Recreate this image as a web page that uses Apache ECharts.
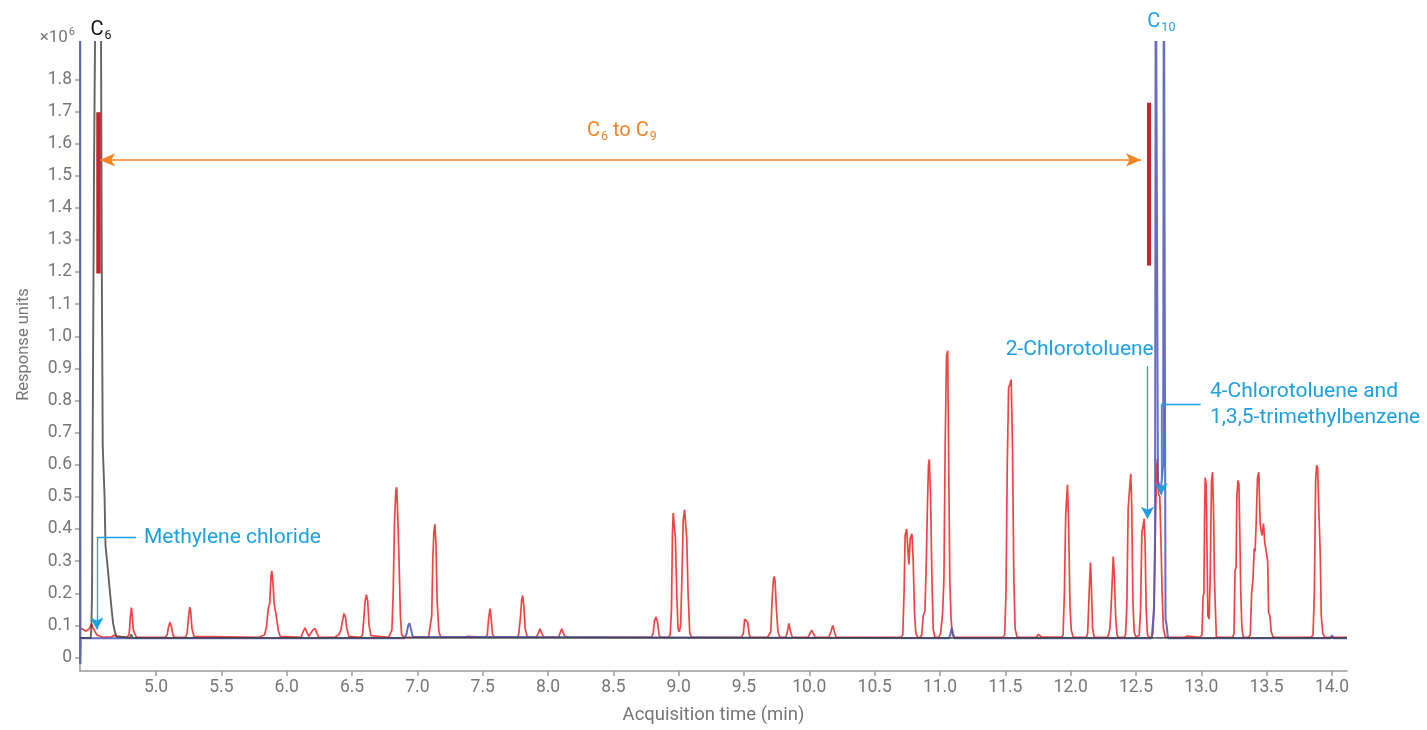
<!DOCTYPE html>
<html>
<head>
<meta charset="utf-8">
<script src="https://cdn.jsdelivr.net/npm/echarts@6/dist/echarts.min.js"></script>
<style>
html,body{margin:0;padding:0;background:#fff;}
#chart{width:1427px;height:730px;}
</style>
</head>
<body>
<div id="chart"></div>
<script>
// ---------- DATA ----------
const xTickLabels = ['5.0','5.5','6.0','6.5','7.0','7.5','8.0','8.5','9.0','9.5','10.0','10.5','11.0','11.5','12.0','12.5','13.0','13.5','14.0'];
const yTickLabels = ['0','0.1','0.2','0.3','0.4','0.5','0.6','0.7','0.8','0.9','1.0','1.1','1.2','1.3','1.4','1.5','1.6','1.7','1.8'];

// red trace [time (min), response (x10^6)]
const redTrace = [
[4.419,0.092],[4.44,0.088],[4.465,0.082],[4.49,0.090],[4.506,0.104],[4.515,0.098],[4.53,0.082],[4.55,0.070],[4.57,0.066],[4.60,0.063],[4.66,0.064],[4.68,0.070],[4.70,0.064],
[4.78,0.063],[4.795,0.075],[4.803,0.125],[4.811,0.155],[4.818,0.13],[4.826,0.085],[4.84,0.072],[4.85,0.063],
[5.07,0.063],[5.085,0.07],[5.095,0.095],[5.107,0.11],[5.118,0.095],[5.13,0.07],[5.14,0.063],
[5.225,0.063],[5.238,0.075],[5.247,0.12],[5.258,0.157],[5.266,0.14],[5.275,0.09],[5.29,0.066],[5.30,0.063],
[5.79,0.063],[5.81,0.067],[5.83,0.07],[5.845,0.095],[5.858,0.15],[5.87,0.17],[5.88,0.255],[5.886,0.27],[5.895,0.23],[5.905,0.165],[5.92,0.13],[5.935,0.085],[5.95,0.066],[5.96,0.063],
[6.11,0.063],[6.125,0.08],[6.14,0.092],[6.155,0.078],[6.17,0.066],[6.185,0.07],[6.2,0.086],[6.217,0.09],[6.232,0.075],[6.245,0.063],
[6.37,0.063],[6.385,0.068],[6.4,0.072],[6.415,0.085],[6.425,0.11],[6.438,0.137],[6.45,0.125],[6.46,0.09],[6.475,0.066],[6.49,0.063],
[6.565,0.063],[6.58,0.07],[6.59,0.12],[6.6,0.175],[6.61,0.196],[6.62,0.175],[6.63,0.1],[6.645,0.068],[6.66,0.063],
[6.78,0.063],[6.79,0.068],[6.805,0.085],[6.815,0.2],[6.825,0.42],[6.835,0.52],[6.842,0.53],[6.85,0.44],[6.86,0.3],[6.87,0.13],[6.88,0.07],[6.9,0.063],
[7.085,0.063],[7.1,0.068],[7.11,0.13],[7.118,0.3],[7.126,0.39],[7.134,0.415],[7.142,0.36],[7.152,0.17],[7.165,0.08],[7.18,0.063],
[7.36,0.063],[7.37,0.067],[7.385,0.066],[7.395,0.063],
[7.52,0.063],[7.535,0.07],[7.545,0.12],[7.556,0.152],[7.565,0.12],[7.575,0.072],[7.59,0.063],
[7.76,0.063],[7.775,0.07],[7.79,0.13],[7.798,0.18],[7.806,0.193],[7.815,0.16],[7.825,0.09],[7.84,0.066],[7.86,0.063],
[7.91,0.063],[7.925,0.075],[7.939,0.089],[7.952,0.076],[7.965,0.063],
[8.08,0.063],[8.093,0.077],[8.105,0.089],[8.118,0.075],[8.13,0.066],[8.16,0.063],
[8.79,0.063],[8.805,0.075],[8.815,0.115],[8.826,0.126],[8.838,0.11],[8.85,0.07],[8.86,0.063],
[8.92,0.063],[8.935,0.07],[8.945,0.15],[8.952,0.38],[8.958,0.45],[8.967,0.453],[8.975,0.37],[8.985,0.2],[8.995,0.09],[9.005,0.08],[9.015,0.1],[9.025,0.25],[9.035,0.43],[9.045,0.46],[9.054,0.463],[9.062,0.37],[9.072,0.2],[9.085,0.075],[9.1,0.063],
[9.48,0.063],[9.495,0.075],[9.505,0.12],[9.515,0.125],[9.528,0.11],[9.54,0.07],[9.55,0.063],
[9.68,0.063],[9.695,0.066],[9.705,0.08],[9.715,0.18],[9.725,0.24],[9.73,0.252],[9.738,0.237],[9.748,0.15],[9.76,0.08],[9.775,0.063],
[9.82,0.063],[9.832,0.08],[9.844,0.106],[9.856,0.08],[9.87,0.063],
[9.99,0.063],[10.005,0.075],[10.018,0.085],[10.03,0.075],[10.045,0.063],
[10.15,0.063],[10.165,0.08],[10.179,0.1],[10.192,0.08],[10.205,0.063],
[10.44,0.063],[10.45,0.066],[10.46,0.063],
[10.7,0.063],[10.715,0.07],[10.725,0.2],[10.733,0.38],[10.745,0.40],[10.755,0.33],[10.762,0.29],[10.772,0.37],[10.785,0.385],[10.795,0.3],[10.805,0.14],[10.815,0.075],[10.83,0.063],
[10.85,0.063],[10.86,0.07],[10.872,0.13],[10.885,0.145],[10.895,0.3],[10.905,0.49],[10.912,0.6],[10.918,0.617],[10.928,0.5],[10.938,0.25],[10.948,0.09],[10.96,0.063],
[10.99,0.063],[11.005,0.075],[11.02,0.14],[11.03,0.24],[11.04,0.675],[11.05,0.94],[11.059,0.955],[11.065,0.68],[11.075,0.24],[11.085,0.12],[11.095,0.07],[11.11,0.063],
[11.48,0.063],[11.495,0.07],[11.505,0.2],[11.515,0.6],[11.525,0.84],[11.535,0.85],[11.545,0.865],[11.555,0.65],[11.565,0.25],[11.575,0.09],[11.59,0.063],
[11.74,0.063],[11.752,0.072],[11.765,0.073],[11.778,0.064],
[11.93,0.063],[11.942,0.07],[11.952,0.2],[11.962,0.444],[11.97,0.5],[11.976,0.538],[11.985,0.4],[11.995,0.16],[12.005,0.085],[12.02,0.063],
[12.12,0.063],[12.13,0.075],[12.138,0.16],[12.145,0.24],[12.152,0.296],[12.16,0.2],[12.168,0.09],[12.18,0.063],
[12.28,0.063],[12.29,0.07],[12.3,0.09],[12.31,0.16],[12.318,0.237],[12.326,0.314],[12.335,0.25],[12.345,0.12],[12.355,0.07],[12.365,0.063],
[12.41,0.063],[12.42,0.07],[12.43,0.16],[12.44,0.463],[12.45,0.52],[12.46,0.572],[12.468,0.463],[12.476,0.18],[12.486,0.08],[12.5,0.063],
[12.515,0.063],[12.525,0.07],[12.535,0.15],[12.545,0.39],[12.555,0.41],[12.562,0.432],[12.57,0.35],[12.578,0.15],[12.588,0.07],[12.6,0.063],
[12.62,0.063],[12.63,0.075],[12.64,0.2],[12.65,0.45],[12.66,0.6],[12.664,0.618],[12.672,0.51],[12.682,0.5],[12.692,0.35],[12.7,0.2],[12.71,0.09],[12.725,0.063],
[12.87,0.063],[12.88,0.068],[12.895,0.067],[12.91,0.063],
[12.99,0.063],[13.005,0.07],[13.013,0.19],[13.02,0.2],[13.025,0.45],[13.03,0.56],[13.037,0.54],[13.045,0.3],[13.05,0.13],[13.06,0.12],[13.068,0.25],[13.078,0.55],[13.086,0.577],[13.094,0.45],[13.1,0.25],[13.108,0.15],[13.115,0.063],
[13.24,0.063],[13.25,0.075],[13.258,0.27],[13.266,0.28],[13.272,0.5],[13.28,0.551],[13.288,0.54],[13.295,0.38],[13.302,0.2],[13.31,0.1],[13.32,0.063],
[13.36,0.063],[13.375,0.07],[13.385,0.2],[13.395,0.24],[13.405,0.34],[13.412,0.33],[13.42,0.42],[13.43,0.56],[13.44,0.577],[13.45,0.42],[13.455,0.40],[13.465,0.38],[13.476,0.417],[13.485,0.36],[13.5,0.366],[13.508,0.3],[13.515,0.14],[13.525,0.13],[13.535,0.08],[13.55,0.063],
[13.84,0.063],[13.855,0.07],[13.865,0.2],[13.875,0.55],[13.883,0.598],[13.89,0.59],[13.9,0.453],[13.91,0.324],[13.918,0.13],[13.93,0.075],[13.945,0.063],
[14.115,0.063]
];

// blue trace
const blueTrace = [
[4.4188,-0.02],[4.4192,2.4],[4.4205,2.4],[4.4212,-0.02],[4.424,0.06],[4.8,0.06],
[6.9,0.06],[6.915,0.07],[6.93,0.1],[6.94,0.107],[6.95,0.09],[6.965,0.065],[6.98,0.06],
[11.07,0.06],[11.08,0.075],[11.09,0.092],[11.1,0.075],[11.11,0.06],
[12.62,0.06],[12.638,0.15],[12.646,0.38],[12.651,2.4],[12.662,2.4],[12.668,0.55],[12.69,0.52],[12.708,0.6],[12.713,2.4],[12.722,2.4],[12.726,0.12],[12.735,0.1],[12.745,0.06],
[13.99,0.06],[14.0,0.07],[14.01,0.06],[14.115,0.06]
];

// black trace
const blackTrace = [
[4.419,0.061],[4.50,0.061],[4.505,0.09],[4.51,0.2],[4.515,0.68],[4.525,1.5],[4.533,1.92],[4.54,2.4],[4.57,2.4],[4.579,1.92],[4.585,1.2],[4.592,0.66],[4.598,0.59],[4.606,0.5],[4.613,0.35],[4.63,0.28],[4.648,0.2],[4.66,0.15],[4.671,0.107],[4.685,0.08],[4.699,0.066],[4.71,0.061],
[4.80,0.061],[4.81,0.072],[4.82,0.061],[14.115,0.061]
];

// annotation anchors [time, response]
const c6Bar = [[4.555,1.195],[4.555,1.697]];
const c9Bar = [[12.594,1.22],[12.594,1.727]];
const rangeArrow = [[4.571,1.549],[12.538,1.549]];
const methyleneLeader = [[4.847,0.374],[4.547,0.374],[4.547,0.087]];
const chlorotolueneLeader = [[12.588,0.907],[12.588,0.432]];
const chloroTmbLeader = [[12.995,0.787],[12.692,0.787],[12.692,0.505]];

const xMin = 4.418, xMax = 14.115, yMin = -0.042, yMax = 1.916;

// ---------- CHART ----------
const chart = echarts.init(document.getElementById('chart'), null, {renderer:'canvas'});
const font = 'Roboto, "Noto Sans", sans-serif';
const gray = '#767676';
const annBlue = '#1ba1e2';
const orange = '#f58220';
const darkRed = '#c1272d';

function seg(a, b, extra) {
  return [Object.assign({coord: a, symbol: 'none'}, extra && extra[0] || {}),
          Object.assign({coord: b, symbol: 'none'}, extra && extra[1] || {})];
}
const xTickVals = xTickLabels.map(Number);
const yTickVals = yTickLabels.map(Number);

const option = {
  animation: false,
  backgroundColor: '#fff',
  textStyle: {fontFamily: font},
  grid: {left: 80, right: 80, top: 42, bottom: 55, containLabel: false},
  xAxis: {
    type: 'value', min: xMin, max: xMax,
    name: 'Acquisition time (min)', nameLocation: 'middle', nameGap: 35,
    nameTextStyle: {color: gray, fontSize: 18.5, fontFamily: font},
    axisLine: {show: true, onZero: false, lineStyle: {color: '#9a9a9a', width: 1.5}},
    axisTick: {show: true, length: 5, lineStyle: {color: '#9a9a9a', width: 1.5}, customValues: xTickVals},
    axisLabel: {color: gray, fontSize: 17.5, margin: 8, fontFamily: font,
      customValues: xTickVals,
      formatter: v => { const i = xTickVals.findIndex(t => Math.abs(t - v) < 1e-6); return i >= 0 ? xTickLabels[i] : ''; }},
    splitLine: {show: false}
  },
  yAxis: {
    type: 'value', min: yMin, max: yMax,
    name: 'Response units', nameLocation: 'middle', nameGap: 48,
    nameTextStyle: {color: gray, fontSize: 16.5, fontFamily: font, padding: [0, 0, 0, 24]},
    axisLine: {show: true, onZero: false, lineStyle: {color: '#9a9a9a', width: 1.5}},
    axisTick: {show: true, length: 5, lineStyle: {color: '#9a9a9a', width: 1.5}, customValues: yTickVals},
    axisLabel: {color: gray, fontSize: 17.5, margin: 8, fontFamily: font,
      customValues: yTickVals,
      formatter: v => { const i = yTickVals.findIndex(t => Math.abs(t - v) < 1e-6); return i >= 0 ? yTickLabels[i] : ''; }},
    splitLine: {show: false}
  },
  series: [
    {name: 'red', type: 'line', data: redTrace, showSymbol: false, clip: true, z: 2,
     lineStyle: {color: 'rgba(240,40,40,0.88)', width: 1.7}},
    {name: 'blue', type: 'line', data: blueTrace, showSymbol: false, clip: true, z: 3,
     lineStyle: {color: 'rgba(80,90,185,0.88)', width: 2}},
    {name: 'black', type: 'line', data: blackTrace, showSymbol: false, clip: true, z: 4,
     lineStyle: {color: 'rgba(60,60,60,0.8)', width: 1.9}},
    {name: 'annotations', type: 'line', data: [], z: 5, showSymbol: false,
     markLine: {
       silent: true, animation: false, label: {show: false},
       data: [
         seg(c6Bar[0], c6Bar[1], [{lineStyle: {color: darkRed, width: 4.5, type: 'solid'}}]),
         seg(c9Bar[0], c9Bar[1], [{lineStyle: {color: darkRed, width: 4, type: 'solid'}}]),
         [{coord: rangeArrow[0], symbol: 'arrow', symbolSize: [10, 15], lineStyle: {color: orange, width: 1.5, type: 'solid'}},
          {coord: rangeArrow[1], symbol: 'arrow', symbolSize: [10, 15]}],
         seg(methyleneLeader[0], methyleneLeader[1], [{lineStyle: {color: annBlue, width: 1.3, type: 'solid'}}]),
         [{coord: methyleneLeader[1], symbol: 'none', lineStyle: {color: annBlue, width: 1.3, type: 'solid'}},
          {coord: methyleneLeader[2], symbol: 'arrow', symbolSize: [10, 12]}],
         [{coord: chlorotolueneLeader[0], symbol: 'none', lineStyle: {color: annBlue, width: 1.3, type: 'solid'}},
          {coord: chlorotolueneLeader[1], symbol: 'arrow', symbolSize: [10, 12]}],
         seg(chloroTmbLeader[0], chloroTmbLeader[1], [{lineStyle: {color: annBlue, width: 1.3, type: 'solid'}}]),
         [{coord: chloroTmbLeader[1], symbol: 'none', lineStyle: {color: annBlue, width: 1.3, type: 'solid'}},
          {coord: chloroTmbLeader[2], symbol: 'arrow', symbolSize: [10, 12]}]
       ]
     }}
  ]
};
chart.setOption(option);

// ---------- TEXT LABELS (positioned through the chart's scales) ----------
const px = (t, v) => chart.convertToPixel({gridIndex: 0}, [t, v]);
const subRich = (color, size, subSize, subPad) => ({
  c: {fontSize: size, fill: color, fontFamily: font, verticalAlign: 'top', lineHeight: size + 2},
  s: {fontSize: subSize, fill: color, fontFamily: font, verticalAlign: 'top', lineHeight: subSize, padding: [subPad, 0, 0, 1]}
});
const graphics = [];
function addText(t, v, text, opts) {
  const p = px(t, v);
  graphics.push({type: 'text', x: p[0] + (opts.dx || 0), y: p[1] + (opts.dy || 0), silent: true, z: 100,
    style: Object.assign({text: text, fontFamily: font}, opts.style)});
}
// x10^6 (above axis top)
(function(){
  const p = px(xMin, yMax);
  graphics.push({type: 'text', x: p[0] - 5, y: p[1] - 13, silent: true, z: 100,
    style: {text: '{a|×10}{b|6}', align: 'right', verticalAlign: 'top',
      rich: {a: {fontSize: 17, fill: gray, fontFamily: font, verticalAlign: 'top', lineHeight: 19},
             b: {fontSize: 11, fill: gray, fontFamily: font, verticalAlign: 'top', lineHeight: 11, padding: [-2,0,0,1]}}}});
})();
// C6 (black, above the C6 peak)
(function(){
  const p = px(4.49, yMax);
  graphics.push({type: 'text', x: p[0] + 1, y: p[1] - 22, silent: true, z: 100,
    style: {text: '{c|C}{s|6}', align: 'left', verticalAlign: 'top', rich: subRich('#111', 20, 12.5, 9)}});
})();
// C10 (blue)
(function(){
  const p = px(12.587, yMax);
  graphics.push({type: 'text', x: p[0], y: p[1] - 30, silent: true, z: 100,
    style: {text: '{c|C}{s|10}', align: 'left', verticalAlign: 'top', rich: subRich(annBlue, 20, 12.5, 9)}});
})();
// C6 to C9 (orange)
(function(){
  const p = px(8.565, 1.635);
  graphics.push({type: 'text', x: p[0], y: p[1] - 11, silent: true, z: 100,
    style: {text: '{c|C}{s|6}{c| to C}{s|9}', align: 'center', verticalAlign: 'top', rich: subRich(orange, 20, 12.5, 9)}});
})();
addText(4.908, 0.372, 'Methylene chloride', {style: {fill: annBlue, fontSize: 21, align: 'left', verticalAlign: 'middle'}});
addText(12.636, 0.957, '2-Chlorotoluene', {style: {fill: annBlue, fontSize: 21, align: 'right', verticalAlign: 'middle'}});
addText(13.066, 0.787, '4-Chlorotoluene and\n1,3,5-trimethylbenzene', {style: {fill: annBlue, fontSize: 21, align: 'left', verticalAlign: 'middle', lineHeight: 26}});

chart.setOption({graphic: graphics});
</script>
</body>
</html>
